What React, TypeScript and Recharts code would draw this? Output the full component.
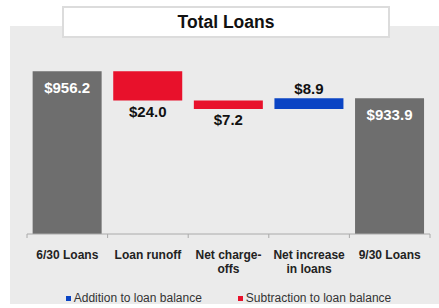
import { Bar, BarChart, Cell, LabelList, Legend, XAxis, YAxis } from 'recharts'

const categories = ['6/30 Loans', 'Loan runoff', 'Net charge-\noffs', 'Net increase\nin loans', '9/30 Loans']
const openingBalance = 956.2
const changes = [-24.0, -7.2, 8.9]
const closingBalance = 933.9
const yDomain = [822, 982]

const GRAY = '#6e6e6e'
const RED = '#e8112b'
const BLUE = '#0a44c4'
const FONT = '"Liberation Sans", Arial, sans-serif'

const legendItems = [
  { label: 'Addition to loan balance', color: BLUE },
  { label: 'Subtraction to loan balance', color: RED },
]

type Row = { name: string; range: [number, number]; kind: 'total' | 'down' | 'up'; value: number }

// Barras flutuantes: cada passo começa onde o anterior terminou.
const data: Row[] = (() => {
  const rows: Row[] = [{ name: categories[0], range: [0, openingBalance], kind: 'total', value: openingBalance }]
  let atual = openingBalance
  changes.forEach((c, i) => {
    const fim = atual + c
    rows.push({
      name: categories[i + 1],
      range: [Math.min(atual, fim), Math.max(atual, fim)],
      kind: c < 0 ? 'down' : 'up',
      value: Math.abs(c),
    })
    atual = fim
  })
  rows.push({ name: categories[categories.length - 1], range: [0, closingBalance], kind: 'total', value: closingBalance })
  return rows
})()

const colorOf = (kind: Row['kind']) => (kind === 'total' ? GRAY : kind === 'down' ? RED : BLUE)

const W = 439
const H = 308
const MARGIN = { top: 40, right: 9, left: 27, bottom: 0 }
const band = (W - MARGIN.left - MARGIN.right) / categories.length

function renderLabel(props: any) {
  const x = Number(props.x)
  const y = Number(props.y)
  const width = Number(props.width)
  const height = Number(props.height)
  const row = data[props.index]
  if (!row) return null
  const cx = x + width / 2
  let ty = y + 16
  let fill = '#ffffff'
  if (row.kind === 'down') {
    ty = y + height + 11
    fill = '#111'
  } else if (row.kind === 'up') {
    ty = y - 10
    fill = '#111'
  }
  return (
    <text x={cx} y={ty} dy="0.35em" textAnchor="middle" fill={fill} fontSize={15} fontWeight={700} fontFamily={FONT}>
      {`$${row.value.toFixed(1)}`}
    </text>
  )
}

function renderTick(props: any) {
  const x = Number(props.x)
  const y = Number(props.y)
  const linhas = String(props.payload?.value ?? '').split('\n')
  const ultimo = props.index === categories.length - 1
  return (
    <g>
      <line x1={x - band / 2} x2={x - band / 2} y1={y} y2={y + 4} stroke="#aaa" />
      {ultimo && <line x1={x + band / 2} x2={x + band / 2} y1={y} y2={y + 4} stroke="#aaa" />}
      <text x={x} y={y + 25} textAnchor="middle" fill="#222" fontSize={12} fontWeight={700} fontFamily={FONT}>
        {linhas.map((l, i) => (
          <tspan key={l} x={x} dy={i === 0 ? 0 : 14}>
            {l}
          </tspan>
        ))}
      </text>
    </g>
  )
}

function LegendContent() {
  return (
    <div style={{ display: 'flex', justifyContent: 'center', alignItems: 'center', gap: 36, fontFamily: FONT, fontSize: 12, color: '#333', height: 20 }}>
      {legendItems.map(item => (
        <span key={item.label} style={{ display: 'flex', alignItems: 'center', gap: 3 }}>
          <span style={{ display: 'inline-block', width: 5, height: 5, background: item.color }} />
          {item.label}
        </span>
      ))}
    </div>
  )
}

export default function App() {
  return (
    <div style={{ position: 'absolute', left: 0, top: 0, width: W, height: H, background: '#fff', fontFamily: FONT }}>
      <div style={{ position: 'absolute', left: 10, top: 26, width: 429, height: 278, background: '#ebebeb' }} />
      <div
        style={{
          position: 'absolute',
          left: 62,
          top: 6,
          width: 324,
          height: 28,
          background: '#fff',
          border: '2px solid #dcdcdc',
          display: 'flex',
          alignItems: 'center',
          justifyContent: 'center',
          fontSize: 17.5,
          fontWeight: 700,
          color: '#111',
          zIndex: 1,
        }}
      >
        Total Loans
      </div>
      <div style={{ position: 'absolute', left: 0, top: 0 }}>
        <BarChart width={W} height={H} data={data} margin={MARGIN} barCategoryGap="7%">
          <XAxis
            dataKey="name"
            interval={0}
            height={54}
            tickSize={0}
            tickMargin={0}
            axisLine={{ stroke: '#aaa' }}
            tickLine={false}
            tick={renderTick}
          />
          <YAxis hide width={0} domain={yDomain} allowDataOverflow />
          <Legend verticalAlign="bottom" height={20} content={<LegendContent />} />
          <Bar dataKey="range" isAnimationActive={false}>
            {data.map(d => (
              <Cell key={d.name} fill={colorOf(d.kind)} />
            ))}
            <LabelList dataKey="value" content={renderLabel} />
          </Bar>
        </BarChart>
      </div>
    </div>
  )
}
